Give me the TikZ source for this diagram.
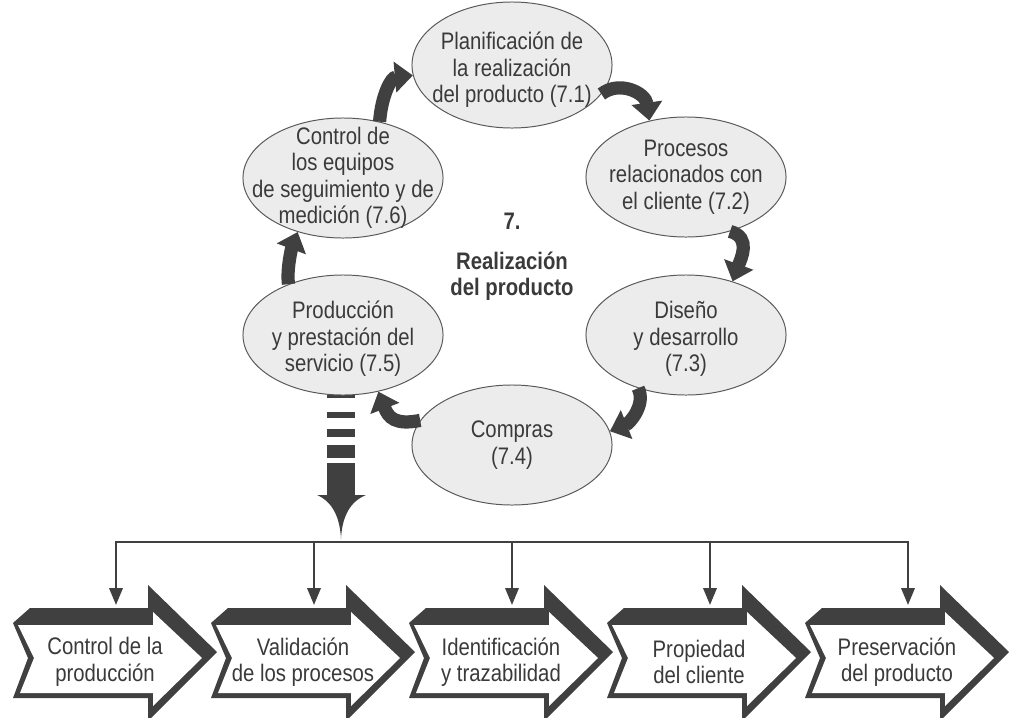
\documentclass[tikz,border=0pt]{standalone}
\usepackage{fontspec}
\setmainfont{Liberation Sans}[FakeStretch=0.85]
\usetikzlibrary{shapes.geometric,arrows.meta}
\definecolor{oscuro}{HTML}{404040}
\definecolor{relleno}{HTML}{ECECEC}
\definecolor{letra}{HTML}{3A3A3A}
\tikzset{
  etapa/.style={ellipse, draw=black!65, line width=0.7pt, fill=relleno, minimum width=5cm, minimum height=3cm, inner sep=0pt},
  etxt/.style={align=center, text=letra, font=\fontsize{17}{18.8}\selectfont, inner sep=0pt},
  flecha/.style={draw=oscuro, line width=0.33cm, -{Triangle[width=0.75cm,length=0.45cm]}},
  baja/.style={draw=oscuro, line width=1.8pt, -{Triangle[width=0.33cm,length=0.42cm]}}
}
\begin{document}
\begin{tikzpicture}[x=0.025cm, y=-0.025cm]
\useasboundingbox (0,0) rectangle (1009,718);
% gruesa flecha discontinua
\foreach \a/\b in {390/398, 412/418, 429/437, 445/458, 463/496} \fill[oscuro] (327,\a) rectangle (355,\b);
\fill[oscuro] (317,495) .. controls (333,502) and (340,518) .. (341,539) .. controls (342,518) and (349,502) .. (366,495) -- cycle;
\coordinate (reparto) at (341,542);
% ciclo
\node[etapa, minimum height=3.15cm] (e1) at (512,65) {};
\node[etapa] (e2) at (686,177) {};
\node[etapa] (e3) at (686,335) {};
\node[etapa] (e4) at (512,445) {};
\node[etapa] (e5) at (343,335) {};
\node[etapa] (e6) at (343,178) {};
\node[etxt] (t1) at (512,70) {Planificación de\\la realización\\del producto (7.1)};
\node[etxt] (t2) at (e2) {Procesos\\relacionados con\\el cliente (7.2)};
\node[etxt] (t3) at (686,339) {Diseño\\y desarrollo\\(7.3)};
\node[etxt] (t4) at (e4) {Compras\\(7.4)};
\node[etxt] (t5) at (343,339) {Producción\\y prestación del\\servicio (7.5)};
\node[etxt] (t6) at (e6) {Control de\\los equipos\\de seguimiento y de\\medición (7.6)};
\node[etxt, font=\bfseries\fontsize{17}{18.8}\selectfont] (centro) at (512,257) {7.\\[9pt]Realización\\del producto};
\draw[flecha] (e6.57) .. controls +(2,-26) and +(-22,2) .. (e1.186);
\draw[flecha] (e1.-18) .. controls +(18,-14) and +(-4,-28) .. (e2.123);
\draw[flecha] (e2.-51) .. controls +(22,6) and +(8,-22) .. (e3.49);
\draw[flecha] (e3.-132) .. controls +(8,16) and +(20,-8) .. (e4.8);
\draw[flecha] (e4.165) .. controls +(-25,5) and +(10,26) .. (e5.-58);
\draw[flecha] (e5.137) .. controls +(-2,-15) and +(-6,16) .. (e6.-130);
% flechas de abajo
\foreach \i/\txt in {0/{Control de la\\producción}, 1/{Validación\\de los procesos}, 2/{Identificación\\y trazabilidad}, 3/{Propiedad\\del cliente}, 4/{Preservación\\del producto}} {
  \begin{scope}[shift={(\i*198,0)}]
    \fill[oscuro] (13,623) -- (30,608) -- (148,608) -- (148,585) -- (217,652) -- (148,721) -- (148,698) -- (13,698) -- (28,658) -- cycle;
    \fill[white] (18,625) -- (153,625) -- (153,612) -- (202,658) -- (153,706) -- (153,693) -- (20,693) -- (34,658) -- cycle;
    \node[etxt] (b\i) at (105,662) {\txt};
    \coordinate (p\i) at (116,605);
  \end{scope}
}
\draw[baja] (reparto) -| (p0);
\draw[baja] (reparto) -| (p4);
\foreach \i in {1,2,3} \draw[baja] (p\i |- reparto) -- (p\i);
\end{tikzpicture}
\end{document}
